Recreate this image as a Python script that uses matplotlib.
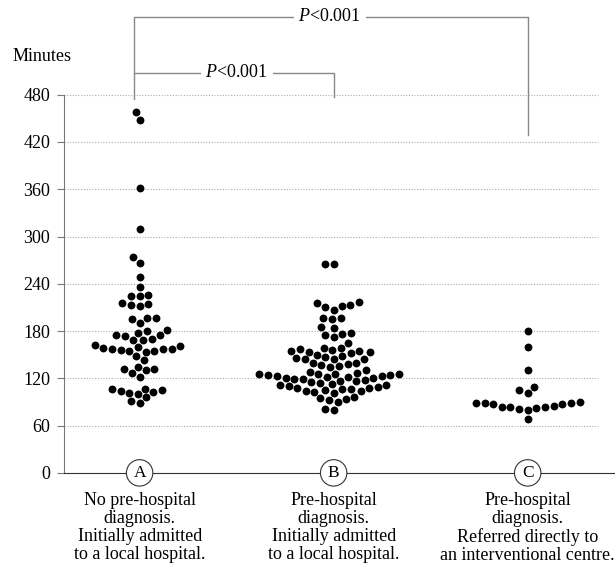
import numpy as np
import matplotlib
matplotlib.use('Agg')
import matplotlib.pyplot as plt
import matplotlib.transforms as mtransforms

# Minutes for each patient
grupo_a = [458, 448, 362, 309, 274, 267, 249, 236, 226, 225, 224, 215, 214, 213, 212,
           197, 196, 195, 190, 181, 180, 178, 175, 175, 174, 170, 169, 169, 162, 161,
           160, 158, 157, 157, 157, 156, 155, 155, 154, 148, 143, 135, 132, 132, 130,
           127, 122, 107, 106, 105, 104, 103, 102, 100, 96, 91, 89]
grupo_b = [265, 265, 217, 215, 213, 212, 210, 207, 197, 196, 195, 185, 184,
           178, 176, 175, 172, 165, 159, 158, 157, 156, 155, 155, 154, 153, 152,
           149, 148, 147, 146, 145, 145, 144, 140, 139, 138, 137, 136, 135,
           130, 128, 127, 126, 126, 125, 125, 124, 124, 123, 123, 122, 122, 121,
           120, 119, 119, 118, 117, 116, 115, 114,
           113, 112, 111, 110, 109, 108, 108, 107, 106, 105, 104, 104, 103, 102,
           96, 95, 94, 92, 90, 81, 80]
grupo_c = [180, 160, 131, 109, 105, 101, 90, 89, 89, 89, 88, 88, 85, 84, 83,
           83, 82, 81, 80, 68]

letras = ['A', 'B', 'C']
etiquetas = ['No pre-hospital\ndiagnosis.\nInitially admitted\nto a local hospital.',
             'Pre-hospital\ndiagnosis.\nInitially admitted\nto a local hospital.',
             'Pre-hospital\ndiagnosis.\nReferred directly to\nan interventional centre.']
ticks_y = [0, 60, 120, 180, 240, 300, 360, 420, 480]

plt.rcParams['font.family'] = ['Liberation Serif', 'DejaVu Serif']
plt.rcParams['mathtext.fontset'] = 'custom'
plt.rcParams['mathtext.rm'] = 'Liberation Serif'
plt.rcParams['mathtext.it'] = 'Liberation Serif:italic'


# Enjambre simple: cada punto se pone lo más cerca del centro sin tocar a los demás.
# Trabaja en píxeles (d = distancia mínima entre centros).
def enjambre(valores, d, px_y):
    y = np.sort(np.asarray(valores, dtype=float)) * px_y
    xs = []
    for i, yi in enumerate(y):
        cand = [0.0]
        for xj, yj in zip(xs, y[:i]):
            dy = yi - yj
            if abs(dy) < d:
                dx = np.sqrt(d * d - dy * dy)
                cand += [xj - dx, xj + dx]
        cand = sorted(cand, key=lambda c: (abs(c), c))
        for c in cand:
            if all((c - xj) ** 2 + (yi - yj) ** 2 >= d * d - 1e-6
                   for xj, yj in zip(xs, y[:i])):
                break
        xs.append(c)
    return np.array(xs), np.sort(valores)


fig = plt.figure(figsize=(6.15, 5.67), dpi=100)
ax = fig.add_axes([0.104, 0.166, 0.896, 0.667])
ax.set_ylim(0, 480)
ax.set_xlim(-0.39, 2.45)

px_x = ax.transData.transform((1, 0))[0] - ax.transData.transform((0, 0))[0]
px_y = ax.transData.transform((0, 1))[1] - ax.transData.transform((0, 0))[1]

for i, grupo in enumerate([grupo_a, grupo_b, grupo_c]):
    dx, vals = enjambre(grupo, 8.8, px_y)
    ax.scatter(i + dx / px_x, vals, s=32, color='black', lw=0, zorder=3, clip_on=False)

fs = 13
ax.set_yticks(ticks_y)
ax.set_yticklabels([str(t) for t in ticks_y], fontsize=fs)
ax.set_xticks([])
for t in ticks_y[1:]:
    ax.axhline(t, xmax=0.97, color='#aaaaaa', lw=0.8, ls=(0, (1, 1.5)), zorder=1)

for s in ['top', 'right']:
    ax.spines[s].set_visible(False)
ax.spines['left'].set_color('#777777')
ax.spines['bottom'].set_color('#333333')
ax.tick_params(axis='y', length=5, color='#777777', pad=5)

fig.text(0.02, 0.892, 'Minutes', fontsize=fs)

# circled letters on the axis and the group descriptions
trans = mtransforms.blended_transform_factory(ax.transData, ax.transAxes)
for i, (letra, txt) in enumerate(zip(letras, etiquetas)):
    ax.text(i, 0, letra, ha='center', va='center', fontsize=12.5, zorder=5,
            bbox=dict(boxstyle='circle,pad=0.3', fc='white', ec='#333333', lw=0.8),
            clip_on=False)
    ax.text(i, -0.05, txt, ha='center', va='top', fontsize=fs,
            linespacing=1.08, transform=trans, clip_on=False)

# significance brackets
gris = '#888888'
ax.plot([-0.03, -0.03, 1.0, 1.0], [474, 508, 508, 477], color=gris, lw=1, clip_on=False)
ax.plot([-0.03, -0.03, 2.0, 2.0], [508, 579, 579, 429], color=gris, lw=1, clip_on=False)
ax.text(0.5, 508, '$P$<0.001', ha='center', va='center', fontsize=fs, clip_on=False,
        bbox=dict(boxstyle='square,pad=0.25', fc='white', ec='none'))
ax.text(0.98, 579, '$P$<0.001', ha='center', va='center', fontsize=fs, clip_on=False,
        bbox=dict(boxstyle='square,pad=0.25', fc='white', ec='none'))

plt.savefig('out.png', dpi=100)
